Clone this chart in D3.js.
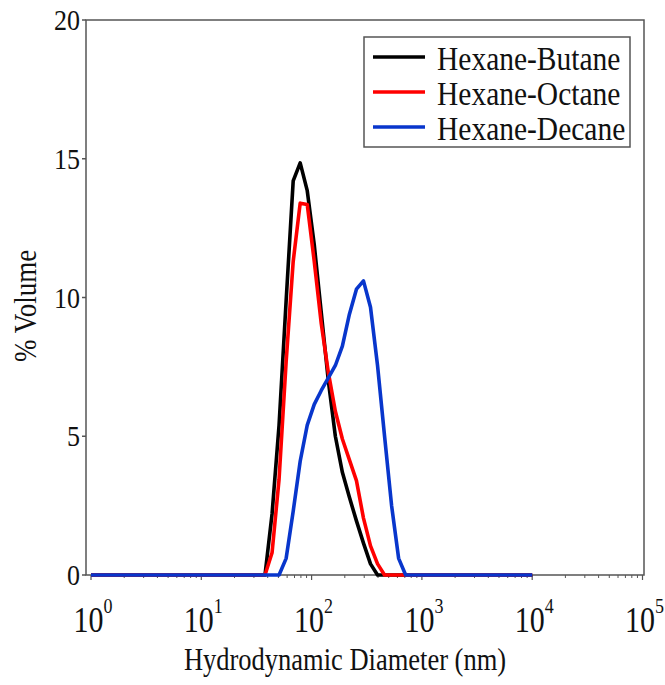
<!DOCTYPE html>
<html>
<head>
<meta charset="utf-8">
<script src="https://cdn.jsdelivr.net/npm/d3@7"></script>
<style>
  html, body { margin: 0; padding: 0; background: #fff; }
  svg { display: block; font-family: "Liberation Serif", "Times New Roman", serif; }
</style>
</head>
<body>
<svg id="chart" width="665" height="685"></svg>
<script>
// Particle size distribution (DLS, volume-weighted) for three solvent pairs
const sizes = [1, 32.7, 37.8, 43.8, 50.7, 58.8, 68.1, 78.8, 91.3, 105.7, 122.4, 141.8,
               164.2, 190.1, 220.2, 255.0, 295.3, 342.0, 396.1, 458.7, 531.2, 615.1,
               712.4, 825.0, 10000];
const hexaneButane = [0, 0, 0, 2.2, 5.4, 9.9, 14.2, 14.85, 13.85, 11.9, 9.45, 7.0,
                      5.0, 3.7, 2.8, 1.95, 1.15, 0.4, 0, 0, 0, 0, 0, 0, 0];
const hexaneOctane = [0, 0, 0, 0.8, 3.45, 7.7, 11.3, 13.4, 13.35, 11.3, 9.05, 7.3,
                      5.9, 4.9, 4.15, 3.4, 2.05, 1.05, 0.4, 0, 0, 0, 0, 0, 0];
const hexaneDecane = [0, 0, 0, 0, 0, 0.6, 2.3, 4.1, 5.4, 6.15, 6.65, 7.1,
                      7.55, 8.25, 9.4, 10.3, 10.6, 9.65, 7.55, 5.0, 2.5, 0.6, 0, 0, 0];

const seriesNames = ["Hexane-Butane", "Hexane-Octane", "Hexane-Decane"];
const seriesColors = ["#000000", "#ff0000", "#0836cc"];
const seriesValues = [hexaneButane, hexaneOctane, hexaneDecane];

const yTicks = [0, 5, 10, 15, 20];
const xDecades = [0, 1, 2, 3, 4, 5];
const xTitle = "Hydrodynamic Diameter (nm)";
const yTitle = "% Volume";

const svg = d3.select("#chart");
const frame = { left: 86, right: 644, top: 20, bottom: 575 };

const x = d3.scaleLog().domain([1, 1e5]).range([91, 642.5]);
const y = d3.scaleLinear().domain([0, 20]).range([575, 20]);

const axisColor = "#555";
const textColor = "#111";
const stretch = 1.17;   // glyphs are drawn slightly taller than wide

// Text placed at (px, py), then stretched vertically around that point
function addText(parent, px, py, rotate) {
  const rot = rotate ? ` rotate(${rotate})` : "";
  return parent.append("text")
    .attr("transform", `translate(${px},${py})${rot} scale(1,${stretch})`)
    .attr("fill", textColor);
}

// Frame
svg.append("rect")
  .attr("x", frame.left).attr("y", frame.top)
  .attr("width", frame.right - frame.left)
  .attr("height", frame.bottom - frame.top)
  .attr("fill", "none").attr("stroke", axisColor).attr("stroke-width", 1.5);

// Y axis ticks and labels
const yAxis = svg.append("g");
yTicks.forEach(t => {
  yAxis.append("line")
    .attr("x1", frame.left - 4).attr("x2", frame.left)
    .attr("y1", y(t)).attr("y2", y(t))
    .attr("stroke", axisColor).attr("stroke-width", 1.5);
  addText(yAxis, frame.left - 6, y(t))
    .attr("text-anchor", "end").attr("dominant-baseline", "central")
    .attr("font-size", 26)
    .text(t);
});

// X axis: major decade ticks and minor ticks
const xAxis = svg.append("g");
xDecades.forEach(k => {
  const v = Math.pow(10, k);
  xAxis.append("line")
    .attr("x1", x(v)).attr("x2", x(v))
    .attr("y1", frame.bottom).attr("y2", frame.bottom + 5)
    .attr("stroke", axisColor).attr("stroke-width", 1.2);
  if (k < 5) {
    for (let m = 2; m <= 9; m++) {
      xAxis.append("line")
        .attr("x1", x(m * v)).attr("x2", x(m * v))
        .attr("y1", frame.bottom).attr("y2", frame.bottom + 3)
        .attr("stroke", axisColor).attr("stroke-width", 1);
    }
  }
  const label = addText(xAxis, x(v) + 2, 632)
    .attr("text-anchor", "middle")
    .attr("font-size", 30);
  label.append("tspan").text("10");
  label.append("tspan").attr("font-size", 18).attr("dy", -16).text(k);
});

// Axis titles
addText(svg, 345, 670)
  .attr("text-anchor", "middle")
  .attr("font-size", 26.5)
  .text(xTitle);

addText(svg, 36, 306, -90)
  .attr("text-anchor", "middle")
  .attr("font-size", 27)
  .text(yTitle);

// Curves
const line = d3.line()
  .x((d, i) => x(sizes[i]))
  .y(d => y(d));

const plot = svg.append("g");
seriesValues.forEach((vals, i) => {
  plot.append("path")
    .datum(vals)
    .attr("d", line)
    .attr("fill", "none")
    .attr("stroke", seriesColors[i])
    .attr("stroke-width", 3.6)
    .attr("stroke-linejoin", "round");
});

// Legend
const legend = svg.append("g");
legend.append("rect")
  .attr("x", 364).attr("y", 37).attr("width", 266).attr("height", 110)
  .attr("fill", "#fff").attr("stroke", axisColor).attr("stroke-width", 1.5);
seriesNames.forEach((name, i) => {
  const ly = 57 + i * 35;
  legend.append("line")
    .attr("x1", 373).attr("x2", 425).attr("y1", ly).attr("y2", ly)
    .attr("stroke", seriesColors[i]).attr("stroke-width", 3.6);
  addText(legend, 437, ly + 1)
    .attr("dominant-baseline", "central")
    .attr("font-size", 29.5)
    .text(name);
});
</script>
</body>
</html>
